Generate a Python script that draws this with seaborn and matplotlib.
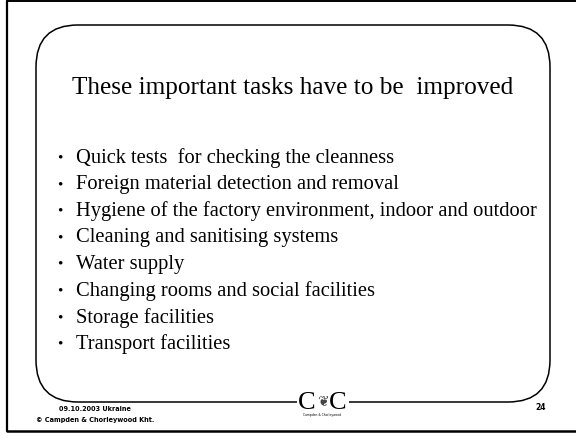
import matplotlib
matplotlib.use('Agg')
import matplotlib.pyplot as plt
from matplotlib.patches import FancyBboxPatch, Rectangle
import seaborn as sns

sns.set_theme(style='white')
plt.rcParams['font.family'] = ['Liberation Serif', 'DejaVu Serif']

TITLE = 'These important tasks have to be  improved'
TASKS = [
    'Quick tests  for checking the cleanness',
    'Foreign material detection and removal',
    'Hygiene of the factory environment, indoor and outdoor',
    'Cleaning and sanitising systems',
    'Water supply',
    'Changing rooms and social facilities',
    'Storage facilities',
    'Transport facilities',
]
FOOTER = ['09.10.2003 Ukraine', '\u00a9 Campden & Chorleywood Kht.']
PAGE = '24'
LOGO = ['C', 'C']
LOGO_SUB = 'Campden & Chorleywood'

W, H = 576, 439
fig = plt.figure(figsize=(W / 100, H / 100), dpi=100)
ax = fig.add_axes([0, 0, 1, 1])
ax.set_xlim(0, W)
ax.set_ylim(H, 0)
ax.axis('off')

# outer frame: left, top, bottom
ax.plot([7, 7], [2, 432], color='black', lw=1.6)
ax.plot([7, W], [2, 2], color='black', lw=1.4)
ax.plot([7, W], [432, 432], color='black', lw=1.8)

# rounded panel
box = FancyBboxPatch((36, 26), 514, 377, boxstyle='round,pad=0,rounding_size=42',
                     fill=False, edgecolor='black', lw=1.1)
ax.add_patch(box)

ax.text(293, 88, TITLE, ha='center', va='center', fontsize=18.2, color='black')

y0, step = 158, 26.6
for i, task in enumerate(TASKS):
    y = y0 + i * step
    ax.text(60, y, '\u2022', ha='center', va='center', fontsize=11, color='black')
    ax.text(76, y, task, ha='left', va='center', fontsize=14.8, color='black')

# footer
for i, line in enumerate(FOOTER):
    ax.text(95, 409 + i * 11, line, ha='center', va='center', fontsize=4.7,
            fontweight='bold', family=['DejaVu Sans'], color='black')
ax.text(541, 408, PAGE, ha='center', va='center', fontsize=5.5,
        fontweight='bold', family=['DejaVu Sans'], color='black')

# logo breaking the bottom of the panel
ax.add_patch(Rectangle((297, 396), 52, 14, facecolor='white', edgecolor='none', zorder=3))
for i, ch in enumerate(LOGO):
    ax.text(307 + i * 31, 403, ch, ha='center', va='center', fontsize=19,
            color='black', zorder=4)
ax.text(322.5, 401, '\u2766', ha='center', va='center', fontsize=10,
        family=['DejaVu Sans'], color='#444444', zorder=4)
ax.text(322, 415, LOGO_SUB, ha='center', va='center', fontsize=2.2,
        family=['DejaVu Sans'], color='black', zorder=4)

fig.savefig('out.png', dpi=100, facecolor='white')
